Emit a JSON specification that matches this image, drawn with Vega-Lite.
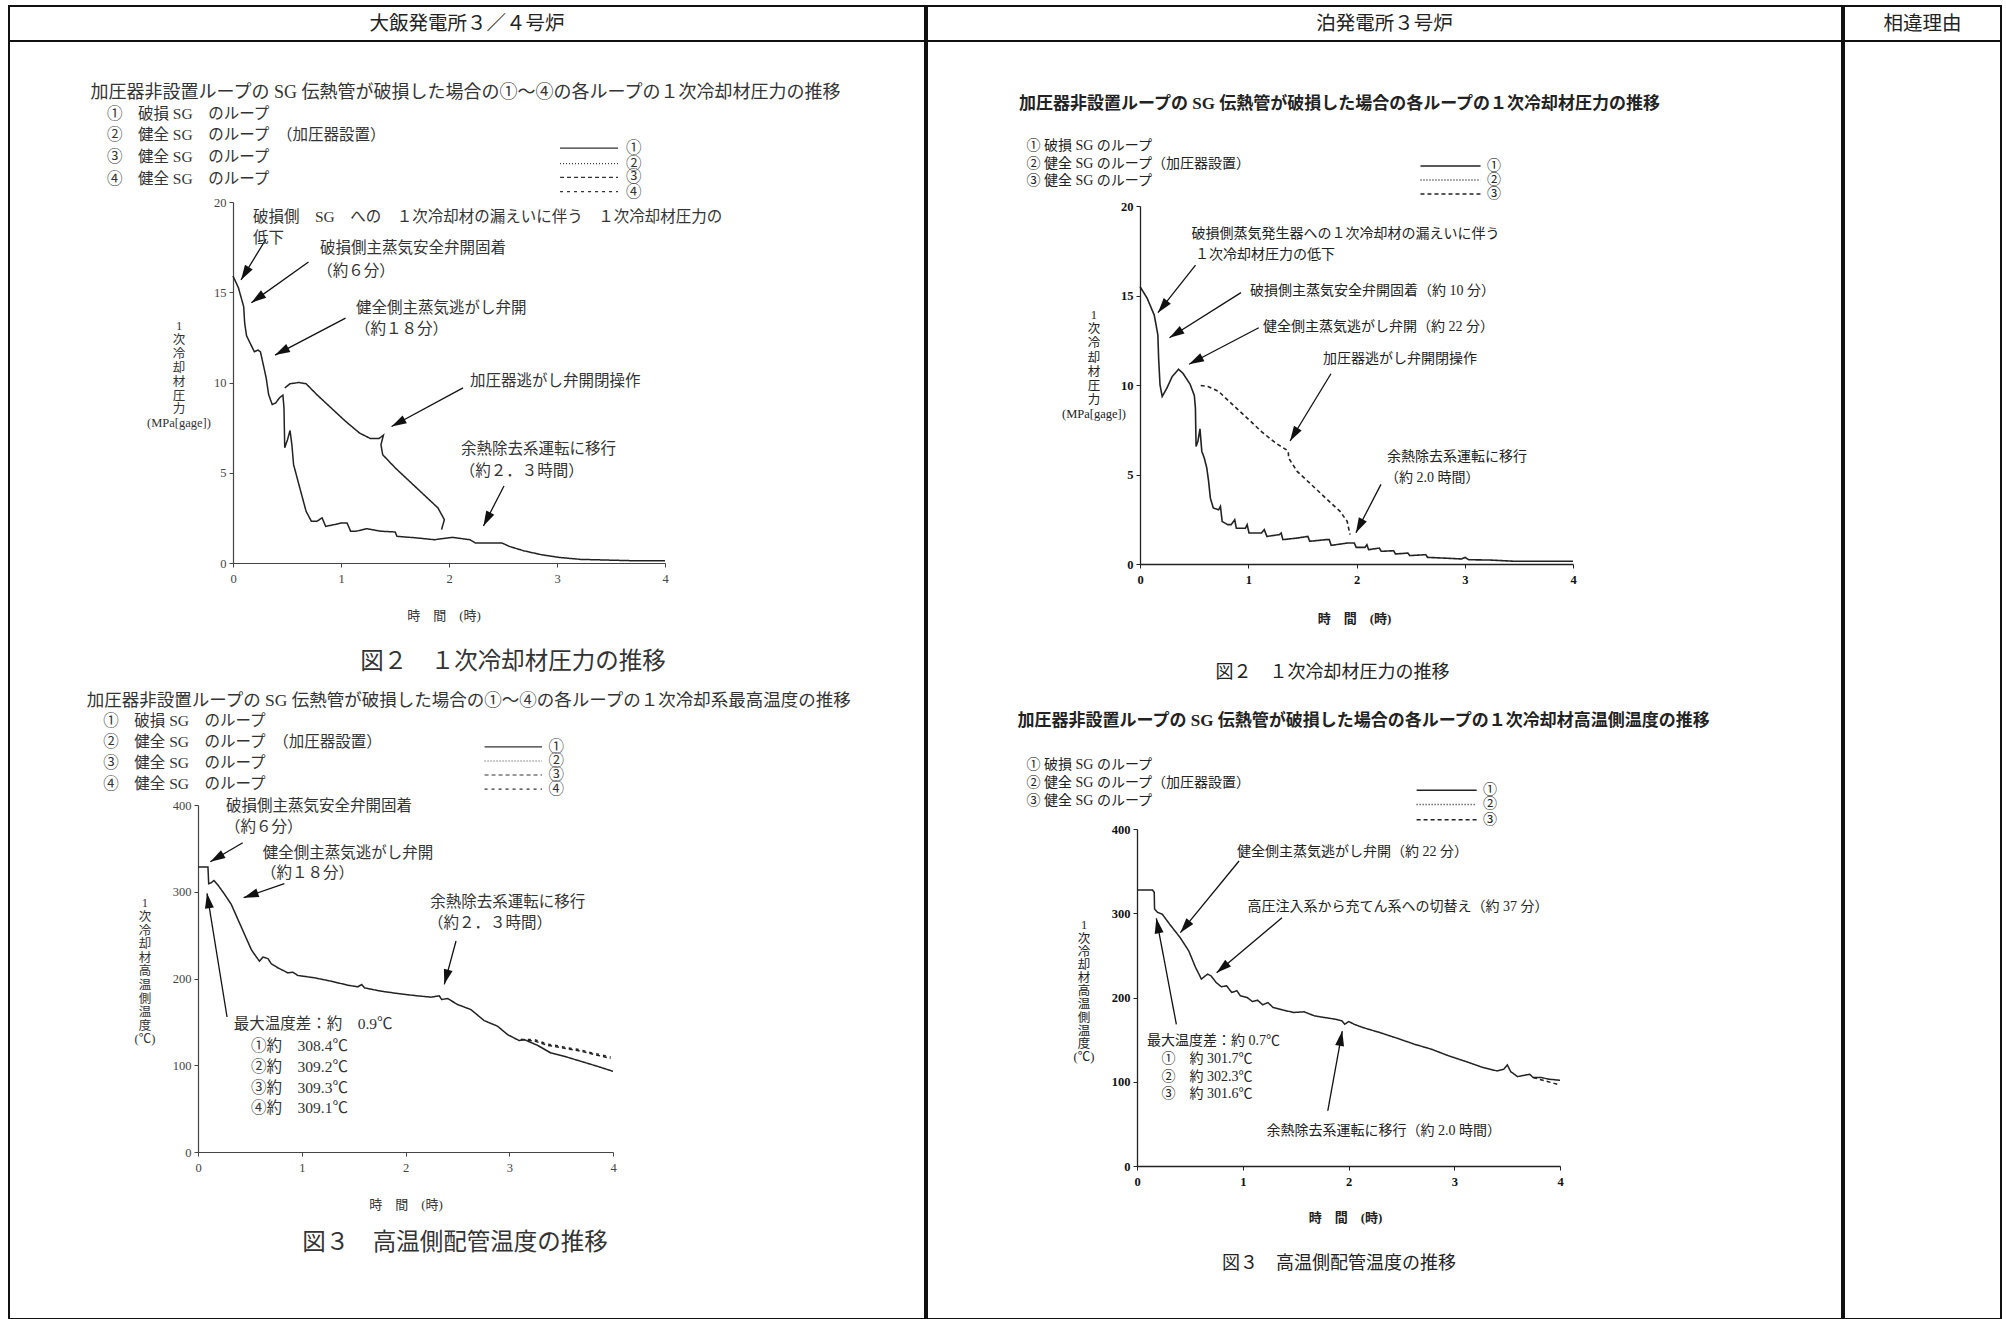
{
"$schema": "https://vega.github.io/schema/vega-lite/v6.json",
"padding": {"left": 8, "top": 5, "right": 10, "bottom": 1},
"background": "white",
"config": {
  "view": {"stroke": null},
  "axis": {"grid": false, "labelFlush": false},
  "text": {"font": "Liberation Serif, Noto Sans CJK JP"},
  "line": {"strokeCap": "butt"}
},
"datasets": {
  "tl": [
    {"t":0,"v":15.9,"s":"①","g":"a"},{"t":0.05,"v":15.25,"s":"①","g":"a"},{"t":0.099,"v":14.2,"s":"①","g":"a"},{"t":0.108,"v":13.3,"s":"①","g":"a"},{"t":0.125,"v":12.6,"s":"①","g":"a"},{"t":0.149,"v":12.3,"s":"①","g":"a"},{"t":0.198,"v":11.7,"s":"①","g":"a"},{"t":0.231,"v":11.8,"s":"①","g":"a"},{"t":0.254,"v":11.7,"s":"①","g":"a"},{"t":0.28,"v":11.0,"s":"①","g":"a"},{"t":0.307,"v":10.26,"s":"①","g":"a"},{"t":0.33,"v":9.33,"s":"①","g":"a"},{"t":0.363,"v":8.78,"s":"①","g":"a"},{"t":0.396,"v":8.87,"s":"①","g":"a"},{"t":0.43,"v":9.15,"s":"①","g":"a"},{"t":0.462,"v":9.3,"s":"①","g":"a"},{"t":0.472,"v":8.6,"s":"①","g":"a"},{"t":0.479,"v":6.38,"s":"①","g":"a"},{"t":0.505,"v":6.84,"s":"①","g":"a"},{"t":0.528,"v":7.34,"s":"①","g":"a"},{"t":0.545,"v":6.56,"s":"①","g":"a"},{"t":0.561,"v":5.45,"s":"①","g":"a"},{"t":0.594,"v":4.71,"s":"①","g":"a"},{"t":0.627,"v":3.97,"s":"①","g":"a"},{"t":0.677,"v":2.86,"s":"①","g":"a"},{"t":0.726,"v":2.31,"s":"①","g":"a"},{"t":0.776,"v":2.31,"s":"①","g":"a"},{"t":0.825,"v":2.5,"s":"①","g":"a"},{"t":0.858,"v":2.03,"s":"①","g":"a"},{"t":0.941,"v":2.13,"s":"①","g":"a"},{"t":1.007,"v":2.22,"s":"①","g":"a"},{"t":1.056,"v":2.22,"s":"①","g":"a"},{"t":1.089,"v":1.76,"s":"①","g":"a"},{"t":1.139,"v":1.76,"s":"①","g":"a"},{"t":1.238,"v":1.9,"s":"①","g":"a"},{"t":1.37,"v":1.76,"s":"①","g":"a"},{"t":1.502,"v":1.72,"s":"①","g":"a"},{"t":1.518,"v":1.48,"s":"①","g":"a"},{"t":1.7,"v":1.39,"s":"①","g":"a"},{"t":1.865,"v":1.29,"s":"①","g":"a"},{"t":2.03,"v":1.42,"s":"①","g":"a"},{"t":2.195,"v":1.29,"s":"①","g":"a"},{"t":2.244,"v":1.11,"s":"①","g":"a"},{"t":2.36,"v":1.11,"s":"①","g":"a"},{"t":2.49,"v":1.11,"s":"①","g":"a"},{"t":2.558,"v":0.92,"s":"①","g":"a"},{"t":2.69,"v":0.68,"s":"①","g":"a"},{"t":2.855,"v":0.46,"s":"①","g":"a"},{"t":3.02,"v":0.31,"s":"①","g":"a"},{"t":3.218,"v":0.2,"s":"①","g":"a"},{"t":3.416,"v":0.17,"s":"①","g":"a"},{"t":3.68,"v":0.13,"s":"①","g":"a"},{"t":4.0,"v":0.13,"s":"①","g":"a"},
    {"t":0.479,"v":9.7,"s":"①","g":"b"},{"t":0.528,"v":9.93,"s":"①","g":"b"},{"t":0.61,"v":10.0,"s":"①","g":"b"},{"t":0.677,"v":9.93,"s":"①","g":"b"},{"t":0.776,"v":9.33,"s":"①","g":"b"},{"t":0.907,"v":8.6,"s":"①","g":"b"},{"t":1.04,"v":7.86,"s":"①","g":"b"},{"t":1.172,"v":7.2,"s":"①","g":"b"},{"t":1.27,"v":6.9,"s":"①","g":"b"},{"t":1.353,"v":6.9,"s":"①","g":"b"},{"t":1.393,"v":7.08,"s":"①","g":"b"},{"t":1.37,"v":6.56,"s":"①","g":"b"},{"t":1.386,"v":6.0,"s":"①","g":"b"},{"t":1.502,"v":5.27,"s":"①","g":"b"},{"t":1.634,"v":4.53,"s":"①","g":"b"},{"t":1.766,"v":3.79,"s":"①","g":"b"},{"t":1.898,"v":3.05,"s":"①","g":"b"},{"t":1.957,"v":2.4,"s":"①","g":"b"},{"t":1.931,"v":1.85,"s":"①","g":"b"}
  ],
  "tr": [
    {"t":0,"v":15.5,"s":"①","g":"a"},{"t":0.066,"v":14.85,"s":"①","g":"a"},{"t":0.132,"v":13.9,"s":"①","g":"a"},{"t":0.165,"v":12.8,"s":"①","g":"a"},{"t":0.172,"v":11.5,"s":"①","g":"a"},{"t":0.185,"v":10.0,"s":"①","g":"a"},{"t":0.205,"v":9.36,"s":"①","g":"a"},{"t":0.248,"v":9.82,"s":"①","g":"a"},{"t":0.297,"v":10.47,"s":"①","g":"a"},{"t":0.356,"v":10.88,"s":"①","g":"a"},{"t":0.396,"v":10.66,"s":"①","g":"a"},{"t":0.462,"v":10.05,"s":"①","g":"a"},{"t":0.502,"v":9.41,"s":"①","g":"a"},{"t":0.512,"v":8.7,"s":"①","g":"a"},{"t":0.518,"v":6.57,"s":"①","g":"a"},{"t":0.535,"v":6.85,"s":"①","g":"a"},{"t":0.554,"v":7.55,"s":"①","g":"a"},{"t":0.571,"v":6.29,"s":"①","g":"a"},{"t":0.594,"v":5.92,"s":"①","g":"a"},{"t":0.617,"v":5.36,"s":"①","g":"a"},{"t":0.634,"v":4.61,"s":"①","g":"a"},{"t":0.65,"v":3.68,"s":"①","g":"a"},{"t":0.677,"v":3.13,"s":"①","g":"a"},{"t":0.726,"v":3.03,"s":"①","g":"a"},{"t":0.743,"v":3.22,"s":"①","g":"a"},{"t":0.759,"v":2.38,"s":"①","g":"a"},{"t":0.809,"v":2.2,"s":"①","g":"a"},{"t":0.842,"v":2.2,"s":"①","g":"a"},{"t":0.875,"v":2.47,"s":"①","g":"a"},{"t":0.89,"v":2.0,"s":"①","g":"a"},{"t":0.974,"v":2.0,"s":"①","g":"a"},{"t":0.99,"v":2.2,"s":"①","g":"a"},{"t":1.007,"v":1.73,"s":"①","g":"a"},{"t":1.122,"v":1.73,"s":"①","g":"a"},{"t":1.148,"v":1.92,"s":"①","g":"a"},{"t":1.172,"v":1.54,"s":"①","g":"a"},{"t":1.287,"v":1.64,"s":"①","g":"a"},{"t":1.304,"v":1.73,"s":"①","g":"a"},{"t":1.32,"v":1.36,"s":"①","g":"a"},{"t":1.452,"v":1.45,"s":"①","g":"a"},{"t":1.551,"v":1.54,"s":"①","g":"a"},{"t":1.568,"v":1.27,"s":"①","g":"a"},{"t":1.716,"v":1.36,"s":"①","g":"a"},{"t":1.749,"v":1.36,"s":"①","g":"a"},{"t":1.766,"v":1.04,"s":"①","g":"a"},{"t":1.914,"v":1.17,"s":"①","g":"a"},{"t":1.98,"v":1.17,"s":"①","g":"a"},{"t":1.997,"v":0.93,"s":"①","g":"a"},{"t":2.079,"v":0.93,"s":"①","g":"a"},{"t":2.096,"v":1.08,"s":"①","g":"a"},{"t":2.112,"v":0.8,"s":"①","g":"a"},{"t":2.211,"v":0.89,"s":"①","g":"a"},{"t":2.228,"v":0.71,"s":"①","g":"a"},{"t":2.343,"v":0.74,"s":"①","g":"a"},{"t":2.36,"v":0.56,"s":"①","g":"a"},{"t":2.475,"v":0.61,"s":"①","g":"a"},{"t":2.492,"v":0.47,"s":"①","g":"a"},{"t":2.64,"v":0.52,"s":"①","g":"a"},{"t":2.657,"v":0.37,"s":"①","g":"a"},{"t":2.805,"v":0.33,"s":"①","g":"a"},{"t":2.97,"v":0.28,"s":"①","g":"a"},{"t":3.003,"v":0.37,"s":"①","g":"a"},{"t":3.036,"v":0.24,"s":"①","g":"a"},{"t":3.234,"v":0.22,"s":"①","g":"a"},{"t":3.465,"v":0.15,"s":"①","g":"a"},{"t":4.0,"v":0.15,"s":"①","g":"a"},
    {"t":0.561,"v":9.97,"s":"③","g":"b"},{"t":0.627,"v":9.92,"s":"③","g":"b"},{"t":0.726,"v":9.64,"s":"③","g":"b"},{"t":0.858,"v":8.89,"s":"③","g":"b"},{"t":0.99,"v":8.15,"s":"③","g":"b"},{"t":1.122,"v":7.4,"s":"③","g":"b"},{"t":1.254,"v":6.75,"s":"③","g":"b"},{"t":1.353,"v":6.38,"s":"③","g":"b"},{"t":1.37,"v":6.29,"s":"③","g":"b"},{"t":1.373,"v":5.92,"s":"③","g":"b"},{"t":1.452,"v":5.17,"s":"③","g":"b"},{"t":1.584,"v":4.43,"s":"③","g":"b"},{"t":1.716,"v":3.68,"s":"③","g":"b"},{"t":1.848,"v":2.94,"s":"③","g":"b"},{"t":1.914,"v":2.38,"s":"③","g":"b"},{"t":1.94,"v":1.64,"s":"③","g":"b"}
  ],
  "bl": [
    {"t":0,"v":328.5,"s":"①","g":"a"},{"t":0.096,"v":328.5,"s":"①","g":"a"},{"t":0.103,"v":309.2,"s":"①","g":"a"},{"t":0.128,"v":310.4,"s":"①","g":"a"},{"t":0.154,"v":313,"s":"①","g":"a"},{"t":0.192,"v":307.7,"s":"①","g":"a"},{"t":0.257,"v":296.9,"s":"①","g":"a"},{"t":0.321,"v":285.4,"s":"①","g":"a"},{"t":0.385,"v":268,"s":"①","g":"a"},{"t":0.449,"v":250.8,"s":"①","g":"a"},{"t":0.513,"v":233.5,"s":"①","g":"a"},{"t":0.561,"v":225,"s":"①","g":"a"},{"t":0.593,"v":220,"s":"①","g":"a"},{"t":0.625,"v":224.6,"s":"①","g":"a"},{"t":0.674,"v":223,"s":"①","g":"a"},{"t":0.706,"v":217,"s":"①","g":"a"},{"t":0.77,"v":212.3,"s":"①","g":"a"},{"t":0.866,"v":206.5,"s":"①","g":"a"},{"t":0.914,"v":207.3,"s":"①","g":"a"},{"t":0.962,"v":203.5,"s":"①","g":"a"},{"t":1.123,"v":200.8,"s":"①","g":"a"},{"t":1.283,"v":196.9,"s":"①","g":"a"},{"t":1.443,"v":192.3,"s":"①","g":"a"},{"t":1.54,"v":190.4,"s":"①","g":"a"},{"t":1.578,"v":193,"s":"①","g":"a"},{"t":1.604,"v":189.2,"s":"①","g":"a"},{"t":1.764,"v":185.4,"s":"①","g":"a"},{"t":1.925,"v":182.7,"s":"①","g":"a"},{"t":2.085,"v":180.4,"s":"①","g":"a"},{"t":2.245,"v":178.5,"s":"①","g":"a"},{"t":2.326,"v":180,"s":"①","g":"a"},{"t":2.348,"v":175.8,"s":"①","g":"a"},{"t":2.406,"v":176.9,"s":"①","g":"a"},{"t":2.502,"v":170,"s":"①","g":"a"},{"t":2.63,"v":164.2,"s":"①","g":"a"},{"t":2.758,"v":151.5,"s":"①","g":"a"},{"t":2.887,"v":145,"s":"①","g":"a"},{"t":2.983,"v":135.4,"s":"①","g":"a"},{"t":3.095,"v":128.5,"s":"①","g":"a"},{"t":3.144,"v":129.6,"s":"①","g":"a"},{"t":3.272,"v":123,"s":"①","g":"a"},{"t":3.4,"v":114.2,"s":"①","g":"a"},{"t":3.528,"v":110.4,"s":"①","g":"a"},{"t":3.689,"v":104.6,"s":"①","g":"a"},{"t":3.849,"v":98.8,"s":"①","g":"a"},{"t":4.0,"v":93,"s":"①","g":"a"},
    {"t":3.112,"v":129.6,"s":"③","g":"c"},{"t":3.24,"v":128,"s":"③","g":"c"},{"t":3.368,"v":123,"s":"③","g":"c"},{"t":3.464,"v":121,"s":"③","g":"c"},{"t":3.56,"v":119,"s":"③","g":"c"},{"t":3.657,"v":117,"s":"③","g":"c"},{"t":3.753,"v":114.5,"s":"③","g":"c"},{"t":3.849,"v":111.5,"s":"③","g":"c"},{"t":3.977,"v":108,"s":"③","g":"c"},
    {"t":3.112,"v":129.6,"s":"④","g":"d"},{"t":3.24,"v":129.6,"s":"④","g":"d"},{"t":3.368,"v":124.5,"s":"④","g":"d"},{"t":3.464,"v":122.5,"s":"④","g":"d"},{"t":3.56,"v":120,"s":"④","g":"d"},{"t":3.657,"v":118.5,"s":"④","g":"d"},{"t":3.753,"v":115.5,"s":"④","g":"d"},{"t":3.849,"v":113,"s":"④","g":"d"},{"t":3.977,"v":109.5,"s":"④","g":"d"}
  ],
  "br": [
    {"t":0,"v":327.5,"s":"①","g":"a"},{"t":0.147,"v":327.5,"s":"①","g":"a"},{"t":0.163,"v":324.8,"s":"①","g":"a"},{"t":0.166,"v":305,"s":"①","g":"a"},{"t":0.195,"v":301,"s":"①","g":"a"},{"t":0.238,"v":299,"s":"①","g":"a"},{"t":0.309,"v":287,"s":"①","g":"a"},{"t":0.407,"v":271.3,"s":"①","g":"a"},{"t":0.489,"v":255.4,"s":"①","g":"a"},{"t":0.554,"v":235.6,"s":"①","g":"a"},{"t":0.586,"v":227.7,"s":"①","g":"a"},{"t":0.609,"v":221.8,"s":"①","g":"a"},{"t":0.635,"v":224.6,"s":"①","g":"a"},{"t":0.668,"v":227.7,"s":"①","g":"a"},{"t":0.7,"v":225.7,"s":"①","g":"a"},{"t":0.749,"v":217.8,"s":"①","g":"a"},{"t":0.798,"v":212.7,"s":"①","g":"a"},{"t":0.847,"v":213.9,"s":"①","g":"a"},{"t":0.896,"v":206,"s":"①","g":"a"},{"t":0.945,"v":208,"s":"①","g":"a"},{"t":0.977,"v":202,"s":"①","g":"a"},{"t":1.042,"v":200,"s":"①","g":"a"},{"t":1.091,"v":195.2,"s":"①","g":"a"},{"t":1.14,"v":196.8,"s":"①","g":"a"},{"t":1.189,"v":191.3,"s":"①","g":"a"},{"t":1.238,"v":194,"s":"①","g":"a"},{"t":1.287,"v":188.1,"s":"①","g":"a"},{"t":1.384,"v":185,"s":"①","g":"a"},{"t":1.482,"v":182.2,"s":"①","g":"a"},{"t":1.58,"v":183,"s":"①","g":"a"},{"t":1.678,"v":178.2,"s":"①","g":"a"},{"t":1.775,"v":176.2,"s":"①","g":"a"},{"t":1.873,"v":174.3,"s":"①","g":"a"},{"t":1.938,"v":172.3,"s":"①","g":"a"},{"t":1.964,"v":168.3,"s":"①","g":"a"},{"t":2.003,"v":171.5,"s":"①","g":"a"},{"t":2.052,"v":168.3,"s":"①","g":"a"},{"t":2.134,"v":164.4,"s":"①","g":"a"},{"t":2.296,"v":158.4,"s":"①","g":"a"},{"t":2.459,"v":151.7,"s":"①","g":"a"},{"t":2.622,"v":144.6,"s":"①","g":"a"},{"t":2.785,"v":138.6,"s":"①","g":"a"},{"t":2.948,"v":130.7,"s":"①","g":"a"},{"t":3.111,"v":124,"s":"①","g":"a"},{"t":3.274,"v":116.8,"s":"①","g":"a"},{"t":3.404,"v":112.9,"s":"①","g":"a"},{"t":3.469,"v":114.9,"s":"①","g":"a"},{"t":3.502,"v":120,"s":"①","g":"a"},{"t":3.534,"v":112,"s":"①","g":"a"},{"t":3.599,"v":106.1,"s":"①","g":"a"},{"t":3.664,"v":107.7,"s":"①","g":"a"},{"t":3.713,"v":108.9,"s":"①","g":"a"},{"t":3.746,"v":105,"s":"①","g":"a"},{"t":3.827,"v":105,"s":"①","g":"a"},{"t":3.893,"v":103,"s":"①","g":"a"},{"t":4.0,"v":101.8,"s":"①","g":"a"},
    {"t":3.746,"v":105,"s":"③","g":"c"},{"t":3.86,"v":101,"s":"③","g":"c"},{"t":4.0,"v":96.2,"s":"③","g":"c"}
  ],
  "tla": [{"t":0.074,"v":15.68,"t2":0.306,"v2":17.95},{"t":0.17,"v":14.42,"t2":0.699,"v2":16.68},{"t":0.389,"v":11.52,"t2":1.042,"v2":13.57},{"t":1.468,"v":7.56,"t2":2.13,"v2":9.7},{"t":2.319,"v":2.05,"t2":2.509,"v2":4.27}],
  "tra": [{"t":0.166,"v":14.04,"t2":0.513,"v2":16.7},{"t":0.272,"v":12.64,"t2":0.933,"v2":15.16},{"t":0.453,"v":11.16,"t2":1.097,"v2":13.2},{"t":1.386,"v":6.87,"t2":1.764,"v2":10.63},{"t":1.995,"v":1.75,"t2":2.226,"v2":4.45}],
  "bla": [{"t":0.119,"v":334.6,"t2":0.431,"v2":356.5},{"t":0.44,"v":293.1,"t2":0.832,"v2":309.3},{"t":0.087,"v":298.2,"t2":0.28,"v2":155.6},{"t":2.374,"v":193.3,"t2":2.487,"v2":243.2}],
  "bra": [{"t":0.41,"v":276.9,"t2":0.965,"v2":362},{"t":0.753,"v":229.4,"t2":1.371,"v2":294.7},{"t":0.183,"v":294,"t2":0.372,"v2":168.2},{"t":1.941,"v":160.2,"t2":1.804,"v2":65.3}]
},
"spacing": 0,
"hconcat": [
  {
    "spacing": 0,
    "bounds": "flush",
    "vconcat": [
      {"width": 916, "height": 35, "view": {"stroke": "#111", "strokeWidth": 2},
       "data": {"values": [{}]},
       "mark": {"type": "text", "text": "大飯発電所３／４号炉", "font": "Noto Sans CJK JP", "fontSize": 19.5, "color": "#222"}},
      {"width": 916, "height": 1278, "view": {"stroke": "#111", "strokeWidth": 2},
       "resolve": {"scale": {"x": "independent", "y": "independent"}},
       "layer": [
         {
           "encoding": {
             "x": {"field": "t", "type": "quantitative", "scale": {"domain": [0, 4], "range": [224, 656], "nice": false, "zero": false},
                   "axis": {"orient": "bottom", "offset": -756, "values": [0, 1, 2, 3, 4], "format": "d", "labelFont": "Liberation Serif", "labelFontSize": 12.5, "labelColor": "#444", "labelPadding": 5, "tickSize": 4, "tickColor": "#444", "domainColor": "#444", "domainWidth": 1.2, "labelFlush": false, "title": "時　間　(時)", "titleFont": "Liberation Serif, Noto Sans CJK JP", "titleFontSize": 13, "titleFontWeight": "normal", "titleColor": "#333", "titleX": 434.6, "titleY": 52, "titleAlign": "center", "titleBaseline": "middle", "titleAngle": 0}},
             "y": {"field": "v", "type": "quantitative", "scale": {"domain": [0, 20], "range": [522, 161], "nice": false, "zero": false},
                   "axis": {"orient": "left", "offset": -224, "values": [0, 5, 10, 15, 20], "format": "d", "labelFont": "Liberation Serif", "labelFontSize": 12.5, "labelColor": "#444", "labelPadding": 3, "tickSize": 4, "tickColor": "#444", "domainColor": "#444", "domainWidth": 1.2, "labelFlush": false, "title": null}}
           },
           "layer": [
             {"data": {"name": "tl"}, "mark": {"type": "line", "color": "#222", "strokeWidth": 1.5},
              "encoding": {"strokeDash": {"field": "s", "type": "nominal", "scale": {"domain": ["①", "②", "③", "④"], "range": [[1, 0], [1, 2], [4, 3], [3, 4]]}, "legend": null},
                           "detail": {"field": "g", "type": "nominal"}, "order": {"value": null}}},
             {"data": {"values": [{"s": "①", "t": 3.028, "t2": 3.565, "v": 22.99}, {"s": "②", "t": 3.028, "t2": 3.565, "v": 22.13}, {"s": "③", "t": 3.028, "t2": 3.565, "v": 21.36}, {"s": "④", "t": 3.028, "t2": 3.565, "v": 20.58}]},
              "mark": {"type": "rule", "color": "#333", "strokeWidth": 1.2},
              "encoding": {"x2": {"field": "t2"}, "strokeDash": {"field": "s", "type": "nominal", "scale": {"domain": ["①", "②", "③", "④"], "range": [[1, 0], [1, 2], [4, 3], [3, 4]]}, "legend": null}}},
             {"data": {"name": "tla"}, "mark": {"type": "rule", "color": "#111", "strokeWidth": 1.3}, "encoding": {"x2": {"field": "t2"}, "y2": {"field": "v2"}}},
             {"data": {"name": "tla"}, "transform": [{"calculate": "atan2((datum.t-datum.t2)*108,(datum.v-datum.v2)*18.05)*180/PI", "as": "ang"}],
              "mark": {"type": "point", "shape": "M0,0L-0.6,2L0.6,2Z", "filled": true, "size": 225, "color": "#111", "opacity": 1, "strokeWidth": 0},
              "encoding": {"angle": {"field": "ang", "type": "quantitative", "scale": null}}},
             {"data": {"values": [{"t": -0.5, "v": 13.46}]},
              "mark": {"type": "text", "text": ["1", "次", "冷", "却", "材", "圧", "力", " ", "(MPa[gage])"], "align": "center", "baseline": "top", "fontSize": 12.5, "lineHeight": 13.9, "color": "#333"}},
             {"data": {"values": [
                {"t": 0.185, "v": 19.17, "label": "破損側　SG　への　１次冷却材の漏えいに伴う　１次冷却材圧力の"},
                {"t": 0.185, "v": 17.98, "label": "低下"},
                {"t": 0.806, "v": 17.45, "label": "破損側主蒸気安全弁開固着"},
                {"t": 0.78, "v": 16.2, "label": "（約６分）"},
                {"t": 1.139, "v": 14.13, "label": "健全側主蒸気逃がし弁開"},
                {"t": 1.13, "v": 12.96, "label": "（約１８分）"},
                {"t": 2.194, "v": 10.08, "label": "加圧器逃がし弁開閉操作"},
                {"t": 2.111, "v": 6.32, "label": "余熱除去系運転に移行"},
                {"t": 2.1, "v": 5.1, "label": "（約２．３時間）"},
                {"t": -1.167, "v": 24.9, "label": "①　破損 SG　のループ"},
                {"t": -1.167, "v": 23.7, "label": "②　健全 SG　のループ　（加圧器設置）"},
                {"t": -1.167, "v": 22.49, "label": "③　健全 SG　のループ"},
                {"t": -1.167, "v": 21.29, "label": "④　健全 SG　のループ"},
                {"t": 3.639, "v": 22.99, "label": "①"},
                {"t": 3.639, "v": 22.13, "label": "②"},
                {"t": 3.639, "v": 21.36, "label": "③"},
                {"t": 3.639, "v": 20.58, "label": "④"}]},
              "mark": {"type": "text", "align": "left", "baseline": "middle", "fontSize": 15.5, "color": "#333"},
              "encoding": {"text": {"field": "label"}}},
             {"data": {"values": [{"t": -1.319, "v": 26.04, "label": "加圧器非設置ループの SG 伝熱管が破損した場合の①～④の各ループの１次冷却材圧力の推移"}]},
              "mark": {"type": "text", "align": "left", "baseline": "middle", "fontSize": 18, "color": "#333"},
              "encoding": {"text": {"field": "label"}}},
             {"data": {"values": [{"t": 2.593, "v": -5.48, "label": "図２　１次冷却材圧力の推移"}]},
              "mark": {"type": "text", "align": "center", "baseline": "middle", "fontSize": 23.5, "color": "#333"},
              "encoding": {"text": {"field": "label"}}}
           ]
         },
         {
           "encoding": {
             "x": {"field": "t", "type": "quantitative", "scale": {"domain": [0, 4], "range": [189, 604], "nice": false, "zero": false},
                   "axis": {"orient": "bottom", "offset": -167, "values": [0, 1, 2, 3, 4], "format": "d", "labelFont": "Liberation Serif", "labelFontSize": 12.5, "labelColor": "#444", "labelPadding": 5, "tickSize": 4, "tickColor": "#444", "domainColor": "#444", "domainWidth": 1.2, "labelFlush": false, "title": "時　間　(時)", "titleFont": "Liberation Serif, Noto Sans CJK JP", "titleFontSize": 13, "titleFontWeight": "normal", "titleColor": "#333", "titleX": 396.5, "titleY": 52, "titleAlign": "center", "titleBaseline": "middle", "titleAngle": 0}},
             "y": {"field": "v", "type": "quantitative", "scale": {"domain": [0, 400], "range": [1111, 764], "nice": false, "zero": false},
                   "axis": {"orient": "left", "offset": -189, "values": [0, 100, 200, 300, 400], "format": "d", "labelFont": "Liberation Serif", "labelFontSize": 12.5, "labelColor": "#444", "labelPadding": 3, "tickSize": 4, "tickColor": "#444", "domainColor": "#444", "domainWidth": 1.2, "labelFlush": false, "title": null}}
           },
           "layer": [
             {"data": {"name": "bl"}, "mark": {"type": "line", "color": "#222", "strokeWidth": 1.5},
              "encoding": {"strokeDash": {"field": "s", "type": "nominal", "scale": {"domain": ["①", "②", "③", "④"], "range": [[1, 0], [1, 2], [4, 3], [3, 4]]}, "legend": null},
                           "detail": {"field": "g", "type": "nominal"}, "order": {"value": null}}},
             {"data": {"values": [{"s": "①", "t": 2.762, "t2": 3.316, "v": 467.1}, {"s": "②", "t": 2.762, "t2": 3.316, "v": 450.7}, {"s": "③", "t": 2.762, "t2": 3.316, "v": 434.6}, {"s": "④", "t": 2.762, "t2": 3.316, "v": 418.4}]},
              "mark": {"type": "rule", "color": "#333", "strokeWidth": 1.2},
              "encoding": {"x2": {"field": "t2"}, "strokeDash": {"field": "s", "type": "nominal", "scale": {"domain": ["①", "②", "③", "④"], "range": [[1, 0], [1, 2], [4, 3], [3, 4]]}, "legend": null}}},
             {"data": {"name": "bla"}, "mark": {"type": "rule", "color": "#111", "strokeWidth": 1.3}, "encoding": {"x2": {"field": "t2"}, "y2": {"field": "v2"}}},
             {"data": {"name": "bla"}, "transform": [{"calculate": "atan2((datum.t-datum.t2)*103.75,(datum.v-datum.v2)*0.8675)*180/PI", "as": "ang"}],
              "mark": {"type": "point", "shape": "M0,0L-0.6,2L0.6,2Z", "filled": true, "size": 225, "color": "#111", "opacity": 1, "strokeWidth": 0},
              "encoding": {"angle": {"field": "ang", "type": "quantitative", "scale": null}}},
             {"data": {"values": [{"t": -0.511, "v": 293.4}]},
              "mark": {"type": "text", "text": ["1", "次", "冷", "却", "材", "高", "温", "側", "温", "度", " ", "(℃)"], "align": "center", "baseline": "top", "fontSize": 12.5, "lineHeight": 13.6, "color": "#333"}},
             {"data": {"values": [
                {"t": 0.27, "v": 398.8, "label": "破損側主蒸気安全弁開固着"},
                {"t": 0.26, "v": 374.6, "label": "（約６分）"},
                {"t": 0.624, "v": 345, "label": "健全側主蒸気逃がし弁開"},
                {"t": 0.607, "v": 322, "label": "（約１８分）"},
                {"t": 2.239, "v": 288.2, "label": "余熱除去系運転に移行"},
                {"t": 2.217, "v": 264.3, "label": "（約２．３時間）"},
                {"t": 0.344, "v": 147.2, "label": "最大温度差：約　0.9℃"},
                {"t": 0.511, "v": 122.2, "label": "①約　308.4℃"},
                {"t": 0.511, "v": 98, "label": "②約　309.2℃"},
                {"t": 0.511, "v": 74.1, "label": "③約　309.3℃"},
                {"t": 0.511, "v": 51.1, "label": "④約　309.1℃"},
                {"t": -0.913, "v": 496.8, "label": "①　破損 SG　のループ"},
                {"t": -0.913, "v": 473, "label": "②　健全 SG　のループ　（加圧器設置）"},
                {"t": -0.913, "v": 448, "label": "③　健全 SG　のループ"},
                {"t": -0.913, "v": 424.2, "label": "④　健全 SG　のループ"},
                {"t": 3.378, "v": 467.1, "label": "①"},
                {"t": 3.378, "v": 450.7, "label": "②"},
                {"t": 3.378, "v": 434.6, "label": "③"},
                {"t": 3.378, "v": 418.4, "label": "④"}]},
              "mark": {"type": "text", "align": "left", "baseline": "middle", "fontSize": 15.5, "color": "#333"},
              "encoding": {"text": {"field": "label"}}},
             {"data": {"values": [{"t": -1.073, "v": 520.1, "label": "加圧器非設置ループの SG 伝熱管が破損した場合の①～④の各ループの１次冷却系最高温度の推移"}]},
              "mark": {"type": "text", "align": "left", "baseline": "middle", "fontSize": 17.5, "color": "#333"},
              "encoding": {"text": {"field": "label"}}},
             {"data": {"values": [{"t": 2.477, "v": -104.9, "label": "図３　高温側配管温度の推移"}]},
              "mark": {"type": "text", "align": "center", "baseline": "middle", "fontSize": 23.5, "color": "#333"},
              "encoding": {"text": {"field": "label"}}}
           ]
         }
       ]}
    ]
  },
  {
    "spacing": 0,
    "bounds": "flush",
    "vconcat": [
      {"width": 915, "height": 35, "view": {"stroke": "#111", "strokeWidth": 2},
       "data": {"values": [{}]},
       "mark": {"type": "text", "text": "泊発電所３号炉", "font": "Noto Sans CJK JP", "fontSize": 19.5, "color": "#222"}},
      {"width": 915, "height": 1278, "view": {"stroke": "#111", "strokeWidth": 2},
       "resolve": {"scale": {"x": "independent", "y": "independent"}},
       "layer": [
         {
           "encoding": {
             "x": {"field": "t", "type": "quantitative", "scale": {"domain": [0, 4], "range": [213, 646], "nice": false, "zero": false},
                   "axis": {"orient": "bottom", "offset": -755, "values": [0, 1, 2, 3, 4], "format": "d", "labelFont": "Liberation Serif", "labelFontSize": 12.5, "labelFontWeight": "bold", "labelColor": "#111", "labelPadding": 5, "tickSize": 4, "tickColor": "#222", "domainColor": "#222", "domainWidth": 1.3, "labelFlush": false, "title": "時　間　(時)", "titleFont": "Liberation Serif, Noto Sans CJK JP", "titleFontSize": 13, "titleFontWeight": "bold", "titleColor": "#222", "titleX": 427, "titleY": 54, "titleAlign": "center", "titleBaseline": "middle", "titleAngle": 0}},
             "y": {"field": "v", "type": "quantitative", "scale": {"domain": [0, 20], "range": [523, 165], "nice": false, "zero": false},
                   "axis": {"orient": "left", "offset": -213, "values": [0, 5, 10, 15, 20], "format": "d", "labelFont": "Liberation Serif", "labelFontSize": 12.5, "labelFontWeight": "bold", "labelColor": "#111", "labelPadding": 3, "tickSize": 4, "tickColor": "#222", "domainColor": "#222", "domainWidth": 1.3, "labelFlush": false, "title": null}}
           },
           "layer": [
             {"data": {"name": "tr"}, "mark": {"type": "line", "color": "#222", "strokeWidth": 1.6},
              "encoding": {"strokeDash": {"field": "s", "type": "nominal", "scale": {"domain": ["①", "②", "③", "④"], "range": [[1, 0], [1, 2], [4, 3], [3, 4]]}, "legend": null},
                           "detail": {"field": "g", "type": "nominal"}, "order": {"value": null}}},
             {"data": {"values": [{"s": "①", "t": 2.591, "t2": 3.146, "v": 22.23}, {"s": "②", "t": 2.591, "t2": 3.146, "v": 21.45}, {"s": "③", "t": 2.591, "t2": 3.146, "v": 20.67}]},
              "mark": {"type": "rule", "color": "#222", "strokeWidth": 1.5},
              "encoding": {"x2": {"field": "t2"}, "strokeDash": {"field": "s", "type": "nominal", "scale": {"domain": ["①", "②", "③", "④"], "range": [[1, 0], [1, 2], [4, 3], [3, 4]]}, "legend": null}}},
             {"data": {"name": "tra"}, "mark": {"type": "rule", "color": "#111", "strokeWidth": 1.3}, "encoding": {"x2": {"field": "t2"}, "y2": {"field": "v2"}}},
             {"data": {"name": "tra"}, "transform": [{"calculate": "atan2((datum.t-datum.t2)*108.25,(datum.v-datum.v2)*17.9)*180/PI", "as": "ang"}],
              "mark": {"type": "point", "shape": "M0,0L-0.6,2L0.6,2Z", "filled": true, "size": 225, "color": "#111", "opacity": 1, "strokeWidth": 0},
              "encoding": {"angle": {"field": "ang", "type": "quantitative", "scale": null}}},
             {"data": {"values": [{"t": -0.425, "v": 14.25}]},
              "mark": {"type": "text", "text": ["1", "次", "冷", "却", "材", "圧", "力", " ", "(MPa[gage])"], "align": "center", "baseline": "top", "fontSize": 12.5, "lineHeight": 14.2, "color": "#222"}},
             {"data": {"values": [
                {"t": 0.476, "v": 18.45, "label": "破損側蒸気発生器への１次冷却材の漏えいに伴う"},
                {"t": 0.508, "v": 17.26, "label": "１次冷却材圧力の低下"},
                {"t": 1.016, "v": 15.23, "label": "破損側主蒸気安全弁開固着（約 10 分）"},
                {"t": 1.136, "v": 13.22, "label": "健全側主蒸気逃がし弁開（約 22 分）"},
                {"t": 1.691, "v": 11.48, "label": "加圧器逃がし弁開閉操作"},
                {"t": 2.282, "v": 5.98, "label": "余熱除去系運転に移行"},
                {"t": 2.263, "v": 4.8, "label": "（約 2.0 時間）"},
                {"t": -1.049, "v": 23.37, "label": "① 破損 SG のループ"},
                {"t": -1.049, "v": 22.37, "label": "② 健全 SG のループ（加圧器設置）"},
                {"t": -1.049, "v": 21.37, "label": "③ 健全 SG のループ"},
                {"t": 3.206, "v": 22.23, "label": "①"},
                {"t": 3.206, "v": 21.45, "label": "②"},
                {"t": 3.206, "v": 20.67, "label": "③"}]},
              "mark": {"type": "text", "align": "left", "baseline": "middle", "fontSize": 14, "color": "#222"},
              "encoding": {"text": {"field": "label"}}},
             {"data": {"values": [{"t": -1.118, "v": 25.7, "label": "加圧器非設置ループの SG 伝熱管が破損した場合の各ループの１次冷却材圧力の推移"}]},
              "mark": {"type": "text", "align": "left", "baseline": "middle", "fontSize": 17, "fontWeight": "bold", "color": "#222"},
              "encoding": {"text": {"field": "label"}}},
             {"data": {"values": [{"t": 1.778, "v": -6.09, "label": "図２　１次冷却材圧力の推移"}]},
              "mark": {"type": "text", "align": "center", "baseline": "middle", "fontSize": 18, "color": "#222"},
              "encoding": {"text": {"field": "label"}}}
           ]
         },
         {
           "encoding": {
             "x": {"field": "t", "type": "quantitative", "scale": {"domain": [0, 4], "range": [210, 633], "nice": false, "zero": false},
                   "axis": {"orient": "bottom", "offset": -153, "values": [0, 1, 2, 3, 4], "format": "d", "labelFont": "Liberation Serif", "labelFontSize": 12.5, "labelFontWeight": "bold", "labelColor": "#111", "labelPadding": 5, "tickSize": 4, "tickColor": "#222", "domainColor": "#222", "domainWidth": 1.3, "labelFlush": false, "title": "時　間　(時)", "titleFont": "Liberation Serif, Noto Sans CJK JP", "titleFontSize": 13, "titleFontWeight": "bold", "titleColor": "#222", "titleX": 418, "titleY": 51, "titleAlign": "center", "titleBaseline": "middle", "titleAngle": 0}},
             "y": {"field": "v", "type": "quantitative", "scale": {"domain": [0, 400], "range": [1125, 788], "nice": false, "zero": false},
                   "axis": {"orient": "left", "offset": -210, "values": [0, 100, 200, 300, 400], "format": "d", "labelFont": "Liberation Serif", "labelFontSize": 12.5, "labelFontWeight": "bold", "labelColor": "#111", "labelPadding": 3, "tickSize": 4, "tickColor": "#222", "domainColor": "#222", "domainWidth": 1.3, "labelFlush": false, "title": null}}
           },
           "layer": [
             {"data": {"name": "br"}, "mark": {"type": "line", "color": "#222", "strokeWidth": 1.5},
              "encoding": {"strokeDash": {"field": "s", "type": "nominal", "scale": {"domain": ["①", "②", "③", "④"], "range": [[1, 0], [1, 2], [4, 3], [3, 4]]}, "legend": null},
                           "detail": {"field": "g", "type": "nominal"}, "order": {"value": null}}},
             {"data": {"values": [{"s": "①", "t": 2.644, "t2": 3.212, "v": 445.9}, {"s": "②", "t": 2.644, "t2": 3.212, "v": 429.2}, {"s": "③", "t": 2.644, "t2": 3.212, "v": 411}]},
              "mark": {"type": "rule", "color": "#222", "strokeWidth": 1.5},
              "encoding": {"x2": {"field": "t2"}, "strokeDash": {"field": "s", "type": "nominal", "scale": {"domain": ["①", "②", "③", "④"], "range": [[1, 0], [1, 2], [4, 3], [3, 4]]}, "legend": null}}},
             {"data": {"name": "bra"}, "mark": {"type": "rule", "color": "#111", "strokeWidth": 1.3}, "encoding": {"x2": {"field": "t2"}, "y2": {"field": "v2"}}},
             {"data": {"name": "bra"}, "transform": [{"calculate": "atan2((datum.t-datum.t2)*105.75,(datum.v-datum.v2)*0.8425)*180/PI", "as": "ang"}],
              "mark": {"type": "point", "shape": "M0,0L-0.6,2L0.6,2Z", "filled": true, "size": 225, "color": "#111", "opacity": 1, "strokeWidth": 0},
              "encoding": {"angle": {"field": "ang", "type": "quantitative", "scale": null}}},
             {"data": {"values": [{"t": -0.501, "v": 292.6}]},
              "mark": {"type": "text", "text": ["1", "次", "冷", "却", "材", "高", "温", "側", "温", "度", " ", "(℃)"], "align": "center", "baseline": "top", "fontSize": 12.5, "lineHeight": 13.15, "color": "#222"}},
             {"data": {"values": [
                {"t": 0.946, "v": 372.7, "label": "健全側主蒸気逃がし弁開（約 22 分）"},
                {"t": 1.046, "v": 307.4, "label": "高圧注入系から充てん系への切替え（約 37 分）"},
                {"t": 0.095, "v": 148.4, "label": "最大温度差：約 0.7℃"},
                {"t": 0.232, "v": 126.6, "label": "①　約 301.7℃"},
                {"t": 0.232, "v": 106, "label": "②　約 302.3℃"},
                {"t": 0.232, "v": 85.1, "label": "③　約 301.6℃"},
                {"t": 1.225, "v": 41.5, "label": "余熱除去系運転に移行（約 2.0 時間）"},
                {"t": -1.045, "v": 476.3, "label": "① 破損 SG のループ"},
                {"t": -1.045, "v": 455.1, "label": "② 健全 SG のループ（加圧器設置）"},
                {"t": -1.045, "v": 433.7, "label": "③ 健全 SG のループ"},
                {"t": 3.272, "v": 445.9, "label": "①"},
                {"t": 3.272, "v": 429.2, "label": "②"},
                {"t": 3.272, "v": 411, "label": "③"}]},
              "mark": {"type": "text", "align": "left", "baseline": "middle", "fontSize": 14, "color": "#222"},
              "encoding": {"text": {"field": "label"}}},
             {"data": {"values": [{"t": -1.13, "v": 528.2, "label": "加圧器非設置ループの SG 伝熱管が破損した場合の各ループの１次冷却材高温側温度の推移"}]},
              "mark": {"type": "text", "align": "left", "baseline": "middle", "fontSize": 17, "fontWeight": "bold", "color": "#222"},
              "encoding": {"text": {"field": "label"}}},
             {"data": {"values": [{"t": 1.91, "v": -116.7, "label": "図３　高温側配管温度の推移"}]},
              "mark": {"type": "text", "align": "center", "baseline": "middle", "fontSize": 18, "color": "#222"},
              "encoding": {"text": {"field": "label"}}}
           ]
         }
       ]}
    ]
  },
  {
    "spacing": 0,
    "bounds": "flush",
    "vconcat": [
      {"width": 157, "height": 35, "view": {"stroke": "#111", "strokeWidth": 2},
       "data": {"values": [{}]},
       "mark": {"type": "text", "text": "相違理由", "font": "Noto Sans CJK JP", "fontSize": 19.5, "color": "#222"}},
      {"width": 157, "height": 1278, "view": {"stroke": "#111", "strokeWidth": 2},
       "data": {"values": [{}]},
       "mark": {"type": "text", "text": ""}}
    ]
  }
]
}
